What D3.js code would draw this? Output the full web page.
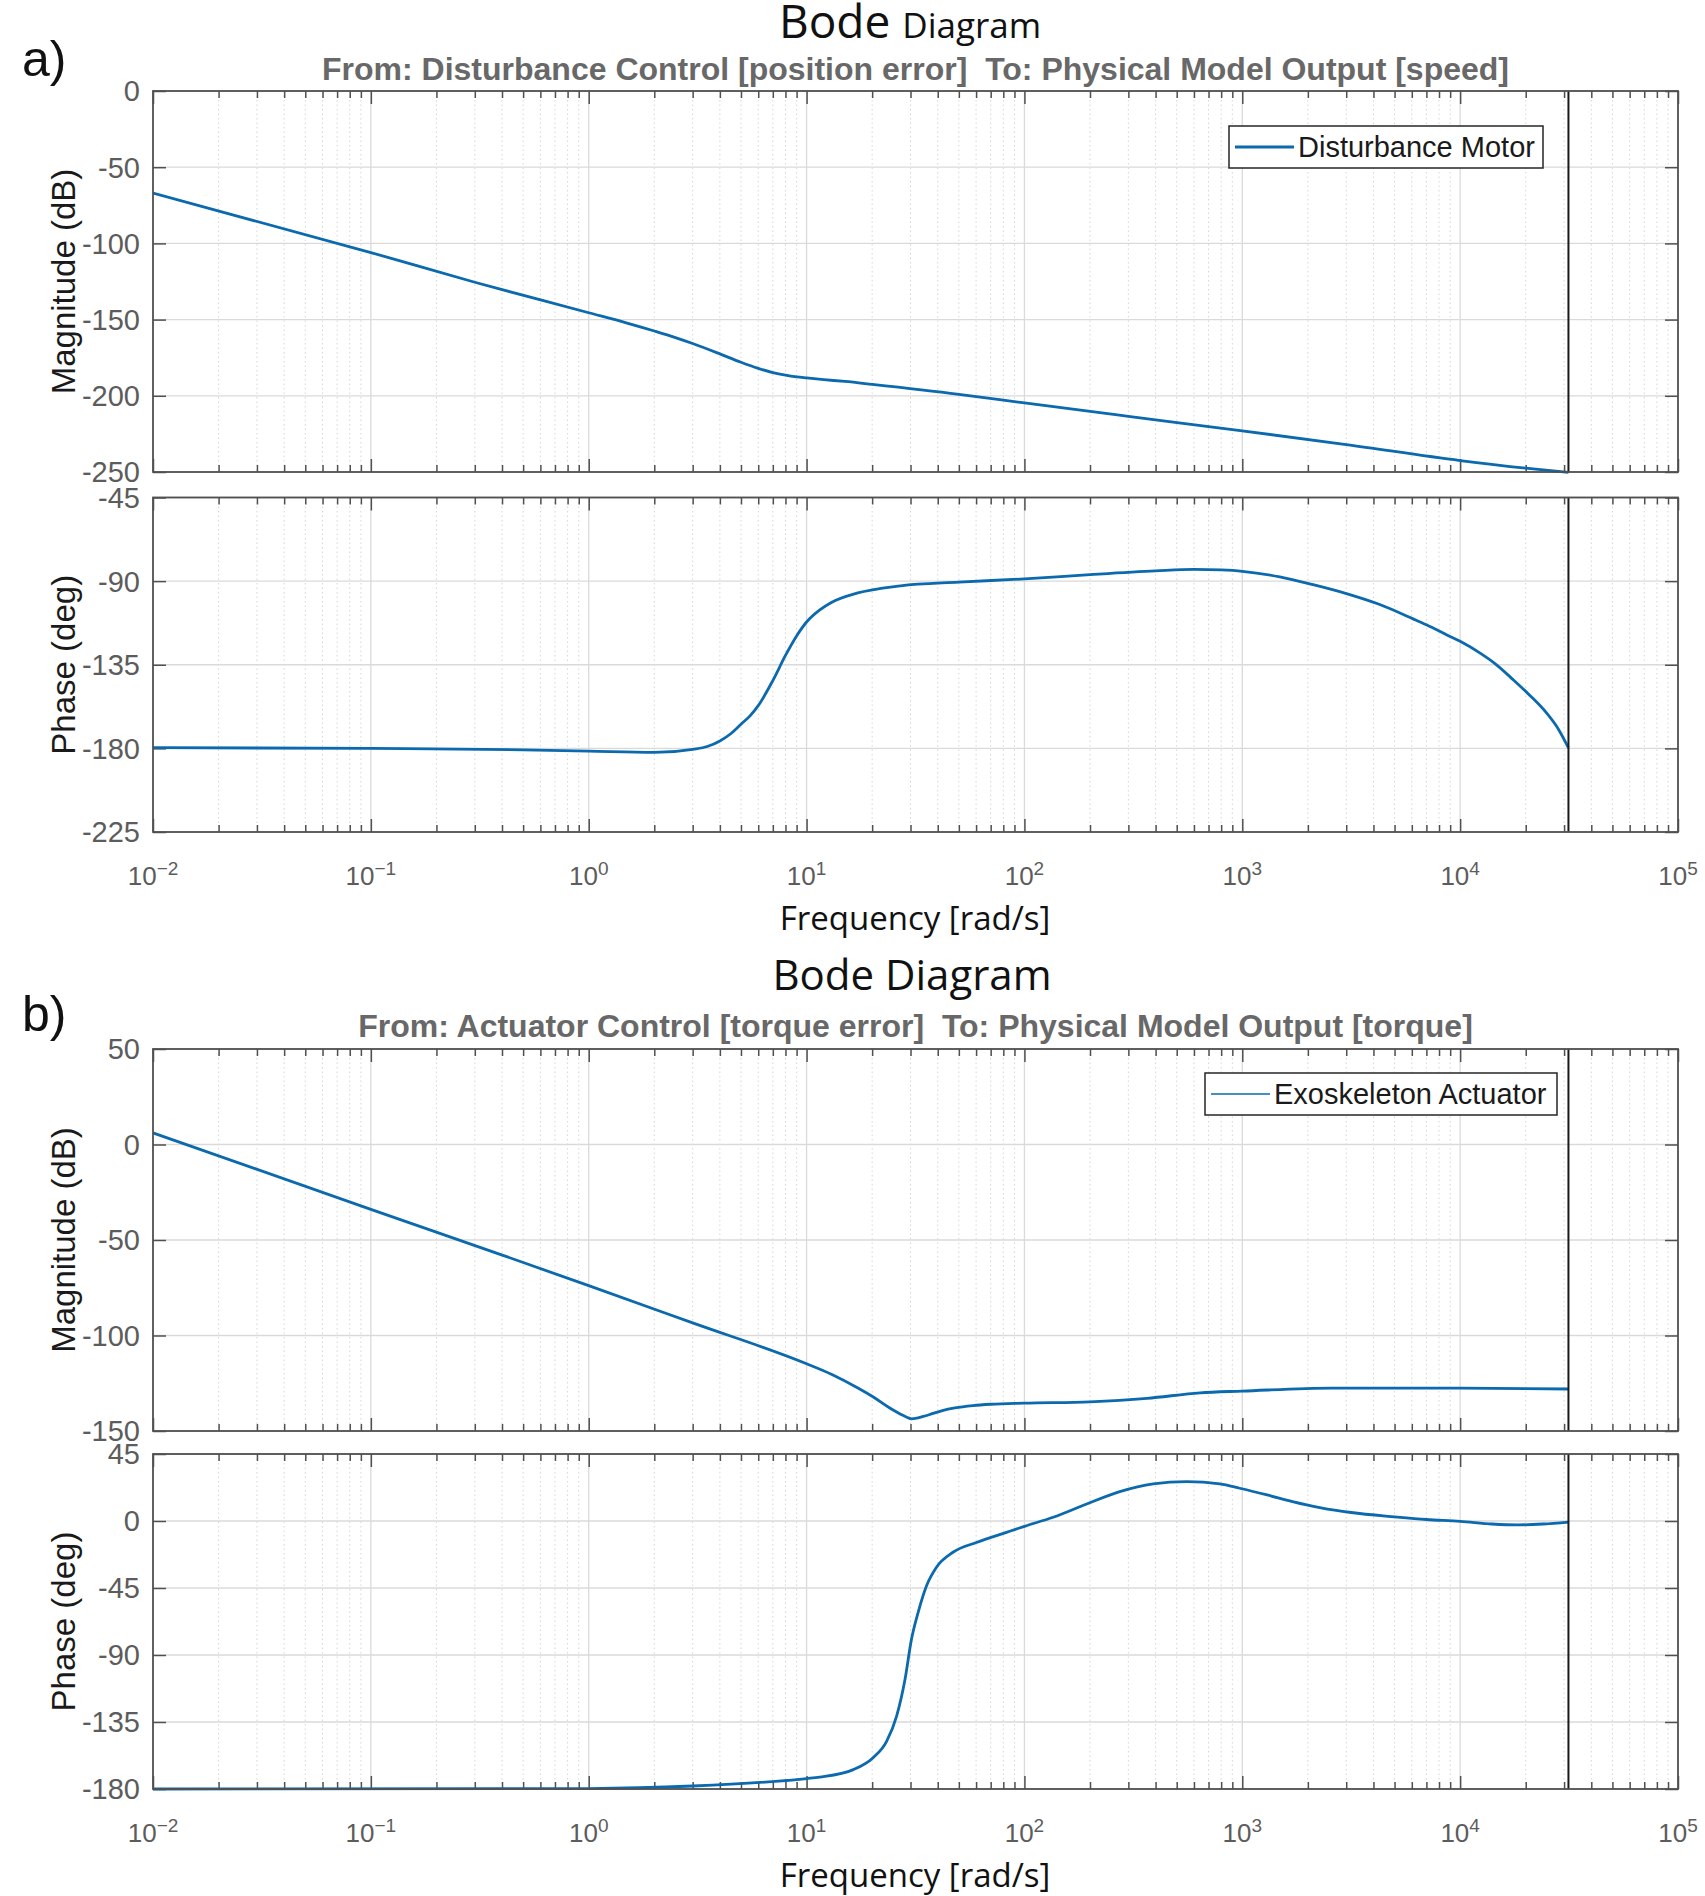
<!DOCTYPE html>
<html lang="en">
<head>
<meta charset="UTF-8">
<title>Bode Diagram</title>
<style>
    body { margin: 0; background: #fff; }
    svg { display: block; background: #fff; }
    .sub { white-space: pre; }
</style>
</head>
<body>
<div id="graphic"></div>

<script src="https://cdn.jsdelivr.net/npm/d3@7"></script>
<script>
// ---- data ----
// a) Disturbance Motor
var freqMagA  = [0.01, 0.1, 0.3, 1, 1.5, 2, 2.5, 3, 4, 5, 6, 7, 8, 9, 10, 12, 15, 20, 50, 100, 300, 1000, 3000, 10000, 20000, 31416];
var magA      = [-67, -106, -125.5, -145.5, -152.3, -157.5, -161.8, -165.7, -172.5, -178, -182, -184.8, -186.5, -187.6, -188.3, -189.4, -190.6, -192.5, -199, -204.7, -213.5, -223, -232, -242.5, -247.5, -250.3];
var freqPhaseA = [0.01, 0.1, 0.5, 1, 2, 3, 3.5, 4, 4.5, 5, 5.5, 6, 7, 8, 9, 10, 11.5, 13, 17, 27, 50, 100, 200, 400, 600, 800, 1000, 1486, 2113, 3006, 4276, 6083, 7000, 8650, 10000, 12300, 14500, 17500, 20850, 24900, 28300, 31416];
var phaseA     = [-179.6, -180, -180.8, -181.5, -182.2, -180.5, -179, -176, -172, -167, -162.5, -157, -143.5, -130, -119.5, -112, -105.5, -101.5, -96.5, -92.5, -90.5, -88.8, -86.5, -84.5, -83.7, -84, -84.7, -87.7, -91.9, -96.7, -102.6, -110.3, -113.5, -118.8, -122.4, -128.6, -134.5, -143, -151.4, -160.9, -169.8, -179.7];

// b) Exoskeleton Actuator
var freqMagB = [0.01, 0.1, 0.392, 1, 3, 10, 13, 17.2, 20.5, 24, 27, 29, 30.3, 32, 34, 36.5, 42, 48, 58, 70, 100, 200, 365, 640, 1000, 2570, 10000, 31416];
var magB     = [6.1, -34, -57.5, -73.9, -93.4, -114.8, -120.3, -127.5, -132.6, -137.8, -141.2, -142.9, -143.6, -143.3, -142.5, -141.5, -139.3, -137.9, -136.7, -136, -135.4, -134.7, -132.9, -130, -129.1, -127.5, -127.5, -128];
var freqPhaseB = [0.01, 1, 3, 10, 11.5, 16.4, 20.2, 23.3, 25.9, 28.3, 30.3, 32.5, 35.5, 39.4, 47, 60.2, 82.7, 100, 135.5, 193, 274, 390, 555, 789, 973, 1300, 1700, 2300, 3160, 5000, 7000, 10000, 14000, 18400, 24000, 31416];
var phaseB     = [-180, -179.7, -178, -173, -172, -167, -159, -148, -131, -106.4, -79.5, -61.5, -43.6, -31.2, -21, -14.4, -7.6, -3.6, 2.5, 11.4, 19.7, 24.9, 26.5, 24.9, 22, 17.5, 13, 8.8, 5.7, 2.8, 1, -0.2, -2, -2.6, -2, -0.7];

var nyquistFreq = 31416;
var xExponents = [-2, -1, 0, 1, 2, 3, 4, 5];
var magTicksA = [0, -50, -100, -150, -200, -250];
var phaseTicksA = [-45, -90, -135, -180, -225];
var magTicksB = [50, 0, -50, -100, -150];
var phaseTicksB = [45, 0, -45, -90, -135, -180];

var subtitleA = 'From: Disturbance Control [position error]  To: Physical Model Output [speed]';
var subtitleB = 'From: Actuator Control [torque error]  To: Physical Model Output [torque]';
var legendA = 'Disturbance Motor';
var legendB = 'Exoskeleton Actuator';

// ---- layout ----
var width = 1705, height = 1896;
var left = 153, right = 1678;
var lineColor = '#0b69ad';

var svg = d3.select('#graphic').append('svg')
    .attr('width', width)
    .attr('height', height);

var x = d3.scaleLog().domain([1e-2, 1e5]).range([left, right]);

var majorX = xExponents.map(function(e) { return Math.pow(10, e); });
var minorX = [];
for (var e = -2; e < 5; e++) {
    for (var m = 2; m <= 9; m++) minorX.push(m * Math.pow(10, e));
}

var clipCount = 0;

function drawAxes(top, bottom, yDomain, yTicks, freqs, values, label, xLabels) {
    var y = d3.scaleLinear().domain(yDomain).range([bottom, top]);
    var g = svg.append('g');

    // minor grid
    g.selectAll('.minor-grid').data(minorX).join('line')
        .attr('x1', function(d) { return x(d); }).attr('x2', function(d) { return x(d); })
        .attr('y1', top).attr('y2', bottom)
        .attr('stroke', '#d6d6d6').attr('stroke-width', 1)
        .attr('stroke-dasharray', '1.5,3');

    // major grid
    g.selectAll('.major-grid-x').data(majorX.slice(1, -1)).join('line')
        .attr('x1', function(d) { return x(d); }).attr('x2', function(d) { return x(d); })
        .attr('y1', top).attr('y2', bottom)
        .attr('stroke', '#dadada').attr('stroke-width', 1.3);
    g.selectAll('.major-grid-y').data(yTicks).join('line')
        .attr('x1', left).attr('x2', right)
        .attr('y1', function(d) { return y(d); }).attr('y2', function(d) { return y(d); })
        .attr('stroke', '#dadada').attr('stroke-width', 1.3);

    // ticks on all four sides, pointing in
    var tickGroups = [
        g.append('g').attr('transform', 'translate(0,' + bottom + ')').call(d3.axisBottom(x).tickValues(majorX).tickSize(-13).tickFormat('')),
        g.append('g').attr('transform', 'translate(0,' + bottom + ')').call(d3.axisBottom(x).tickValues(minorX).tickSize(-7).tickFormat('')),
        g.append('g').attr('transform', 'translate(0,' + top + ')').call(d3.axisTop(x).tickValues(majorX).tickSize(-13).tickFormat('')),
        g.append('g').attr('transform', 'translate(0,' + top + ')').call(d3.axisTop(x).tickValues(minorX).tickSize(-7).tickFormat('')),
        g.append('g').attr('transform', 'translate(' + left + ',0)').call(d3.axisLeft(y).tickValues(yTicks).tickSize(-13).tickFormat('')),
        g.append('g').attr('transform', 'translate(' + right + ',0)').call(d3.axisRight(y).tickValues(yTicks).tickSize(-13).tickFormat(''))
    ];
    tickGroups.forEach(function(t) {
        t.select('.domain').remove();
        t.selectAll('line').attr('stroke', '#505050').attr('stroke-width', 1.5);
    });

    // y tick labels
    g.selectAll('.ylab').data(yTicks).join('text')
        .attr('x', left - 13)
        .attr('y', function(d) { return y(d); })
        .attr('dy', '0.36em')
        .attr('text-anchor', 'end')
        .attr('font-family', '"Liberation Sans", Arial, sans-serif')
        .attr('font-size', 29)
        .attr('fill', '#5c5c5c')
        .text(function(d) { return d; });

    // y axis title
    g.append('text')
        .attr('transform', 'translate(63,' + ((top + bottom) / 2) + ') rotate(-90)')
        .attr('dy', '0.35em')
        .attr('text-anchor', 'middle')
        .attr('font-family', '"Liberation Sans", Arial, sans-serif')
        .attr('font-size', 33)
        .attr('fill', '#1a1a1a')
        .text(label);

    // curve
    clipCount++;
    svg.append('clipPath').attr('id', 'clip' + clipCount)
        .append('rect').attr('x', left).attr('y', top - 2)
        .attr('width', right - left).attr('height', bottom - top + 4);
    var pts = freqs.map(function(f, i) { return [f, values[i]]; });
    var line = d3.line()
        .x(function(d) { return x(d[0]); })
        .y(function(d) { return y(d[1]); })
        .curve(d3.curveMonotoneX);
    g.append('path')
        .datum(pts)
        .attr('clip-path', 'url(#clip' + clipCount + ')')
        .attr('d', line)
        .attr('fill', 'none')
        .attr('stroke', lineColor)
        .attr('stroke-width', 2.8)
        .attr('stroke-linejoin', 'round');

    // nyquist marker
    g.append('line')
        .attr('x1', x(nyquistFreq)).attr('x2', x(nyquistFreq))
        .attr('y1', top).attr('y2', bottom)
        .attr('stroke', '#1a1a1a').attr('stroke-width', 2);

    // box
    g.append('rect')
        .attr('x', left).attr('y', top)
        .attr('width', right - left).attr('height', bottom - top)
        .attr('fill', 'none').attr('stroke', '#505050').attr('stroke-width', 1.8);

    if (xLabels) {
        var xl = g.selectAll('.xlab').data(xExponents).join('text')
            .attr('x', function(d) { return x(Math.pow(10, d)); })
            .attr('y', bottom + 53)
            .attr('text-anchor', 'middle')
            .attr('font-family', '"Liberation Sans", Arial, sans-serif')
            .attr('fill', '#5c5c5c');
        xl.append('tspan').attr('font-size', 26).text('10');
        xl.append('tspan').attr('font-size', 19).attr('dy', -10)
            .text(function(d) { return d < 0 ? '\u2212' + (-d) : d; });
    }
    return y;
}

function drawPanel(p) {
    // headings added on top of the MATLAB figure
    var t = svg.append('text')
        .attr('x', p.titleX).attr('y', p.titleY)
        .attr('text-anchor', 'middle')
        .attr('font-family', '"Open Sans", sans-serif')
        .attr('fill', '#111');
    t.append('tspan').attr('font-size', p.bodeSize).text('Bode ');
    t.append('tspan').attr('font-size', p.diagSize).text('Diagram');

    svg.append('text')
        .attr('x', 22).attr('y', p.letterY)
        .attr('font-family', '"Liberation Sans", Arial, sans-serif')
        .attr('font-size', 50)
        .attr('fill', '#111')
        .text(p.letter);

    svg.append('text')
        .attr('class', 'sub')
        .attr('x', (left + right) / 2).attr('y', p.subY)
        .attr('text-anchor', 'middle')
        .attr('font-family', '"Liberation Sans", Arial, sans-serif')
        .attr('font-weight', 'bold')
        .attr('font-size', 32)
        .attr('fill', '#686868')
        .text(p.subtitle);

    drawAxes(p.magTop, p.magBottom, p.magDomain, p.magTicks, p.magF, p.magV, 'Magnitude (dB)', false);
    drawAxes(p.phTop, p.phBottom, p.phDomain, p.phTicks, p.phF, p.phV, 'Phase (deg)', true);

    svg.append('text')
        .attr('x', 915).attr('y', p.phBottom + 98)
        .attr('text-anchor', 'middle')
        .attr('font-family', '"Open Sans", sans-serif')
        .attr('font-size', 33)
        .attr('fill', '#111')
        .text('Frequency [rad/s]');

    // legend
    var lg = svg.append('g');
    lg.append('rect')
        .attr('x', p.legX).attr('y', p.legY)
        .attr('width', p.legW).attr('height', p.legH)
        .attr('fill', '#fff').attr('stroke', '#262626').attr('stroke-width', 1.5);
    lg.append('line')
        .attr('x1', p.legX + 6).attr('x2', p.legX + 65)
        .attr('y1', p.legY + p.legH / 2).attr('y2', p.legY + p.legH / 2)
        .attr('stroke', lineColor).attr('stroke-width', p.legLine);
    lg.append('text')
        .attr('x', p.legX + 69).attr('y', p.legY + p.legH / 2)
        .attr('dy', '0.36em')
        .attr('font-family', '"Liberation Sans", Arial, sans-serif')
        .attr('font-size', 29)
        .attr('fill', '#1a1a1a')
        .text(p.legend);
}

drawPanel({
    letter: 'a)', letterY: 76, titleX: 910, titleY: 38, bodeSize: 46, diagSize: 35,
    subtitle: subtitleA, subY: 80,
    magTop: 91, magBottom: 472, magDomain: [-250, 0], magTicks: magTicksA, magF: freqMagA, magV: magA,
    phTop: 497.5, phBottom: 832, phDomain: [-225, -45], phTicks: phaseTicksA, phF: freqPhaseA, phV: phaseA,
    legend: legendA, legX: 1229, legY: 126, legW: 314, legH: 42, legLine: 3
});

drawPanel({
    letter: 'b)', letterY: 1031, titleX: 912, titleY: 990, bodeSize: 42, diagSize: 42,
    subtitle: subtitleB, subY: 1037,
    magTop: 1049, magBottom: 1431, magDomain: [-150, 50], magTicks: magTicksB, magF: freqMagB, magV: magB,
    phTop: 1454, phBottom: 1789, phDomain: [-180, 45], phTicks: phaseTicksB, phF: freqPhaseB, phV: phaseB,
    legend: legendB, legX: 1205, legY: 1073, legW: 352, legH: 42, legLine: 1.5
});
</script>
</body>
</html>
